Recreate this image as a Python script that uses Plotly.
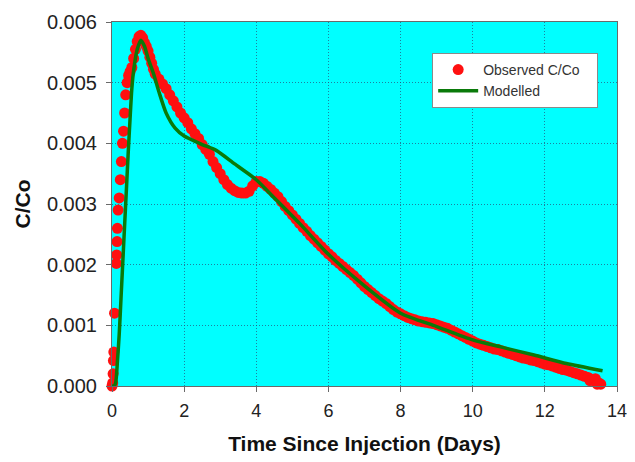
import plotly.graph_objects as go

# Observed C/Co (values in units of 1e-3)
obs_days = [0.00, 0.02, 0.03, 0.04, 0.05, 0.07, 0.12, 0.13, 0.14, 0.15, 0.17,
            0.20, 0.23, 0.26, 0.29, 0.32, 0.35, 0.38, 0.42, 0.46, 0.50, 0.55,
            0.60, 0.65, 0.70, 0.75, 0.80, 0.85, 0.90, 0.95, 1.00, 1.05, 1.10,
            1.15, 1.20,
            1.3, 1.4, 1.5, 1.6, 1.7, 1.8, 1.9, 2.0, 2.1, 2.2, 2.3, 2.4, 2.5,
            2.6, 2.7, 2.8, 2.9, 3.0, 3.1, 3.2, 3.3, 3.4, 3.5, 3.6, 3.7, 3.8,
            3.9, 4.0, 4.1, 4.2, 4.3, 4.4, 4.5, 4.6, 4.7, 4.8, 4.9, 5.0, 5.1,
            5.2, 5.3, 5.4, 5.5, 5.6, 5.7, 5.8, 5.9, 6.0, 6.1, 6.2, 6.3, 6.4,
            6.5, 6.6, 6.7, 6.8, 6.9, 7.0, 7.1, 7.2, 7.3, 7.4, 7.5, 7.6, 7.7,
            7.8, 7.9, 8.0, 8.1, 8.2, 8.3, 8.4, 8.5, 8.6, 8.7, 8.8, 8.9, 9.0,
            9.1, 9.2, 9.3, 9.4, 9.5, 9.6, 9.7, 9.8, 9.9, 10.0, 10.1, 10.2,
            10.3, 10.4, 10.5, 10.6, 10.7, 10.8, 10.9, 11.0, 11.1, 11.2, 11.3,
            11.4, 11.5, 11.6, 11.7, 11.8, 11.9, 12.0, 12.1, 12.2, 12.3, 12.4,
            12.5, 12.6, 12.7, 12.8, 12.9, 13.0, 13.1, 13.2, 13.3, 13.4, 13.5,
            13.55, 13.25, 13.4, 13.45]
obs_milli = [0.00, 0.05, 0.20, 0.42, 0.56, 1.20, 2.02, 2.16, 2.38, 2.60, 2.90,
             3.10, 3.40, 3.70, 4.00, 4.20, 4.50, 4.80, 5.00, 5.12, 5.18, 5.25,
             5.40, 5.55, 5.68, 5.76, 5.78, 5.74, 5.66, 5.60, 5.52, 5.42, 5.32,
             5.22, 5.14,
             5.06, 4.98, 4.90, 4.80, 4.70, 4.60, 4.50, 4.42, 4.34, 4.24, 4.16, 4.08, 3.98,
             3.90, 3.82, 3.70, 3.60, 3.50, 3.40, 3.32, 3.26, 3.22, 3.19, 3.18, 3.18, 3.21,
             3.30, 3.37, 3.37, 3.34, 3.29, 3.24, 3.18, 3.12, 3.04, 2.96, 2.89, 2.82, 2.75,
             2.68, 2.61, 2.55, 2.48, 2.42, 2.36, 2.30, 2.24, 2.18, 2.13, 2.07, 2.02, 1.97,
             1.92, 1.87, 1.82, 1.76, 1.70, 1.64, 1.59, 1.54, 1.49, 1.44, 1.40, 1.36, 1.31,
             1.26, 1.22, 1.19, 1.16, 1.13, 1.11, 1.09, 1.07, 1.06, 1.05, 1.04, 1.03, 1.01,
             0.99, 0.97, 0.95, 0.92, 0.89, 0.86, 0.83, 0.80, 0.77, 0.74, 0.71, 0.69,
             0.67, 0.65, 0.63, 0.61, 0.60, 0.58, 0.56, 0.54, 0.52, 0.50, 0.48,
             0.46, 0.45, 0.43, 0.42, 0.40, 0.38, 0.36, 0.35, 0.33, 0.31, 0.29,
             0.27, 0.26, 0.24, 0.22, 0.20, 0.18, 0.16, 0.14, 0.11, 0.08, 0.05,
             0.03, 0.09, 0.12, 0.03]

# Modelled C/Co (values in units of 1e-3)
mod_days = [0.0, 0.05, 0.10, 0.15, 0.20, 0.25, 0.30, 0.35, 0.40, 0.45, 0.50,
            0.55, 0.60, 0.70, 0.80, 0.90, 1.00, 1.15, 1.30, 1.50, 1.75, 2.00,
            2.50, 2.90, 3.40, 4.00, 4.50, 5.20, 6.00, 7.00, 8.00, 9.00, 10.00,
            10.80, 11.70, 12.60, 13.60]
mod_milli = [0.0, 0.0, 0.05, 0.40, 0.85, 1.45, 2.05, 2.65, 3.25, 3.85, 4.40,
             4.90, 5.20, 5.55, 5.70, 5.60, 5.40, 5.15, 4.85, 4.50, 4.25, 4.12,
             3.98, 3.88, 3.66, 3.40, 3.10, 2.68, 2.17, 1.65, 1.20, 0.98, 0.76,
             0.64, 0.51, 0.37, 0.25]

obs_y = [v / 1000 for v in obs_milli]
mod_y = [v / 1000 for v in mod_milli]

x_ticks = [0, 2, 4, 6, 8, 10, 12, 14]
y_ticks = [0.000, 0.001, 0.002, 0.003, 0.004, 0.005, 0.006]

FONT = "Arial, Liberation Sans, sans-serif"

fig = go.Figure()
fig.add_trace(go.Scatter(
    x=obs_days, y=obs_y, mode="markers", name="Observed C/Co&nbsp;&nbsp;&nbsp;",
    marker=dict(color="#FF1010", size=11, line=dict(width=0)),
    cliponaxis=False,
))
fig.add_trace(go.Scatter(
    x=mod_days, y=mod_y, mode="lines", name="Modelled",
    line=dict(color="#0A7A0A", width=3.5, shape="spline", smoothing=0.6),
    cliponaxis=False,
))

grid_col = "rgba(40,75,120,0.7)"
fig.update_layout(
    width=627, height=454,
    margin=dict(l=104, r=18, t=14, b=76, autoexpand=False),
    paper_bgcolor="white",
    plot_bgcolor="#00FFFF",
    font=dict(family=FONT, color="#222222"),
    showlegend=True,
    legend=dict(
        x=0.634, y=0.915, xanchor="left", yanchor="top",
        bgcolor="white", bordercolor="#8a8a8a", borderwidth=1,
        font=dict(size=14, color="#333333", family=FONT),
        tracegroupgap=0, itemwidth=40,
    ),
    xaxis=dict(
        range=[0, 14], tickvals=x_ticks, ticktext=[str(t) for t in x_ticks],
        showgrid=True, gridcolor=grid_col, griddash="1px,2px", gridwidth=1,
        showline=True, linecolor="#6a6a6a", linewidth=1, mirror=True,
        ticks="outside", ticklen=5, tickcolor="#6a6a6a",
        tickfont=dict(size=18, color="#222222"), ticklabelstandoff=3,
        zeroline=False, automargin=False,
        title=dict(text="<b>Time Since Injection (Days)</b>",
                   font=dict(size=21, color="#111111"), standoff=16),
    ),
    yaxis=dict(
        range=[0, 0.006], tickvals=y_ticks,
        ticktext=["%.3f" % t for t in y_ticks],
        showgrid=True, gridcolor=grid_col, griddash="1px,2px", gridwidth=1,
        showline=True, linecolor="#6a6a6a", linewidth=1, mirror=True,
        ticks="outside", ticklen=5, tickcolor="#6a6a6a",
        tickfont=dict(size=20, color="#222222"), ticklabelstandoff=5,
        zeroline=False, automargin=False,
        title=dict(text="<b>C/Co</b>",
                   font=dict(size=21, color="#111111"), standoff=10),
    ),
)

fig.write_html("out.html")
